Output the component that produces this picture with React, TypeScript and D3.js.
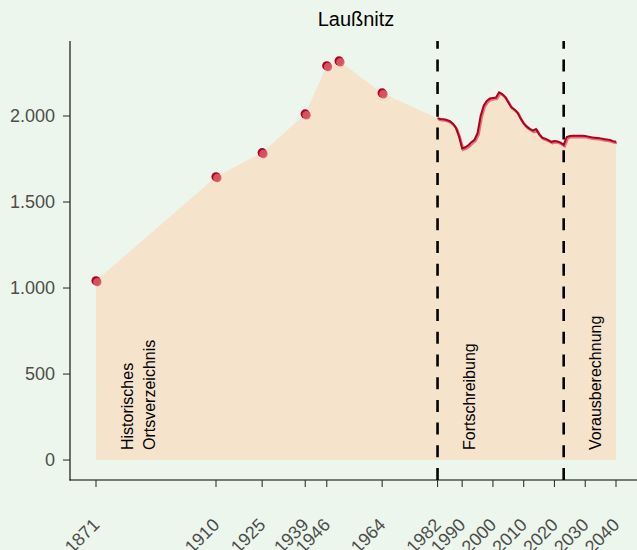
import React from "react";
import * as d3 from "d3";

const title = "Laußnitz";
const histYears = [1871, 1910, 1925, 1939, 1946, 1950, 1964];
const histValues = [1042, 1647, 1787, 2012, 2292, 2320, 2134];
const seriesStart = 1982;
const seriesValues = [
  1987, 1983, 1981, 1977, 1970, 1955, 1930, 1880, 1812, 1818,
  1830, 1848, 1862, 1900, 2000, 2060, 2088, 2102, 2105, 2107,
  2138, 2128, 2110, 2080, 2050, 2038, 2020, 1985, 1957, 1938,
  1925, 1915, 1924, 1895, 1874, 1868, 1860, 1850, 1855, 1852,
  1845, 1832, 1878, 1884, 1885, 1885, 1885, 1885, 1884, 1880,
  1876, 1874, 1872, 1870, 1866, 1864, 1860, 1854, 1850,
];
const xTicks = [1871, 1910, 1925, 1939, 1946, 1964, 1982, 1990, 2000, 2010, 2020, 2030, 2040];
const yTicks = [0, 500, 1000, 1500, 2000];
const phaseLines = [1982, 2023];
const phaseLabels = [
  { year: 1871, lines: ["Historisches", "Ortsverzeichnis"] },
  { year: 1982, lines: ["Fortschreibung"] },
  { year: 2023, lines: ["Vorausberechnung"] },
];

const W = 637;
const H = 550;
const FONT = "'Liberation Sans', Arial, Helvetica, sans-serif";

export default function App() {
  const series = seriesValues.map((v, i) => ({ year: seriesStart + i, value: v }));
  const hist = histYears.map((y, i) => ({ year: y, value: histValues[i] }));
  const all = [...hist, ...series].sort((a, b) => a.year - b.year);

  const xMin = 1871, xMax = 2040;
  const xPad = (xMax - xMin) * 0.05;
  const yMaxData = d3.max(all, (d) => d.value) as number;
  const yPad = yMaxData * 0.05;

  const x = d3.scaleLinear().domain([xMin - xPad, xMax + xPad]).range([70, 642]);
  const y = d3.scaleLinear().domain([-yPad, yMaxData + yPad]).range([480, 41]);

  const area = d3
    .area<{ year: number; value: number }>()
    .x((d) => x(d.year))
    .y0(y(0))
    .y1((d) => y(d.value))(all) as string;

  const line = d3
    .line<{ year: number; value: number }>()
    .x((d) => x(d.year))
    .y((d) => y(d.value))(series) as string;

  const fmt = (v: number) => d3.format(",")(v).replace(/,/g, ".");

  return (
    <svg
      width={W}
      height={H}
      style={{ position: "absolute", left: 0, top: 0 }}
      fontFamily={FONT}
    >
      <rect x={0} y={0} width={W} height={H} fill="#edf6ec" />
      <path d={area} fill="#f5e3cc" />

      {phaseLabels.map((p, i) =>
        p.lines.map((t, j) => {
          const px = x(p.year) + 37 + j * 22;
          return (
            <text
              key={`${i}-${j}`}
              transform={`translate(${px},450) rotate(-90)`}
              fontSize={16}
              fill="#000"
            >
              {t}
            </text>
          );
        })
      )}

      {phaseLines.map((yr) => (
        <line
          key={yr}
          x1={x(yr)}
          x2={x(yr)}
          y1={480}
          y2={41}
          stroke="#000"
          strokeWidth={2.6}
          strokeDasharray="12 10.7"
        />
      ))}

      <path d={line} fill="none" stroke="#e0707c" strokeWidth={2.6} transform="translate(1,1.3)" />
      <path d={line} fill="none" stroke="#b00020" strokeWidth={2} />

      {hist.map((d) => (
        <g key={d.year}>
          <circle cx={x(d.year)} cy={y(d.value)} r={4.6} fill="#b00020" />
          <circle cx={x(d.year) + 1.3} cy={y(d.value) + 1.3} r={4.2} fill="#dc5a66" fillOpacity={0.9} />
        </g>
      ))}

      {/* axes */}
      <line x1={70} x2={70} y1={41} y2={480.5} stroke="#000" strokeWidth={1.1} />
      <line x1={69.5} x2={W} y1={480} y2={480} stroke="#000" strokeWidth={1.1} />
      {yTicks.map((t) => (
        <g key={t}>
          <line x1={63} x2={70} y1={y(t)} y2={y(t)} stroke="#333" strokeWidth={1.1} />
          <text x={55} y={y(t)} dy="0.35em" textAnchor="end" fontSize={18} fill="#4d4d4d">
            {fmt(t)}
          </text>
        </g>
      ))}
      {xTicks.map((t) => (
        <g key={t}>
          <line x1={x(t)} x2={x(t)} y1={480} y2={487} stroke="#333" strokeWidth={1.1} />
          <text
            transform={`translate(${x(t) + 4.5},${526}) rotate(-45)`}
            textAnchor="end"
            fontSize={18}
            fill="#4d4d4d"
          >
            {t}
          </text>
        </g>
      ))}

      <text x={(70 + 642) / 2} y={26} textAnchor="middle" fontSize={20} fill="#000">
        {title}
      </text>
    </svg>
  );
}
